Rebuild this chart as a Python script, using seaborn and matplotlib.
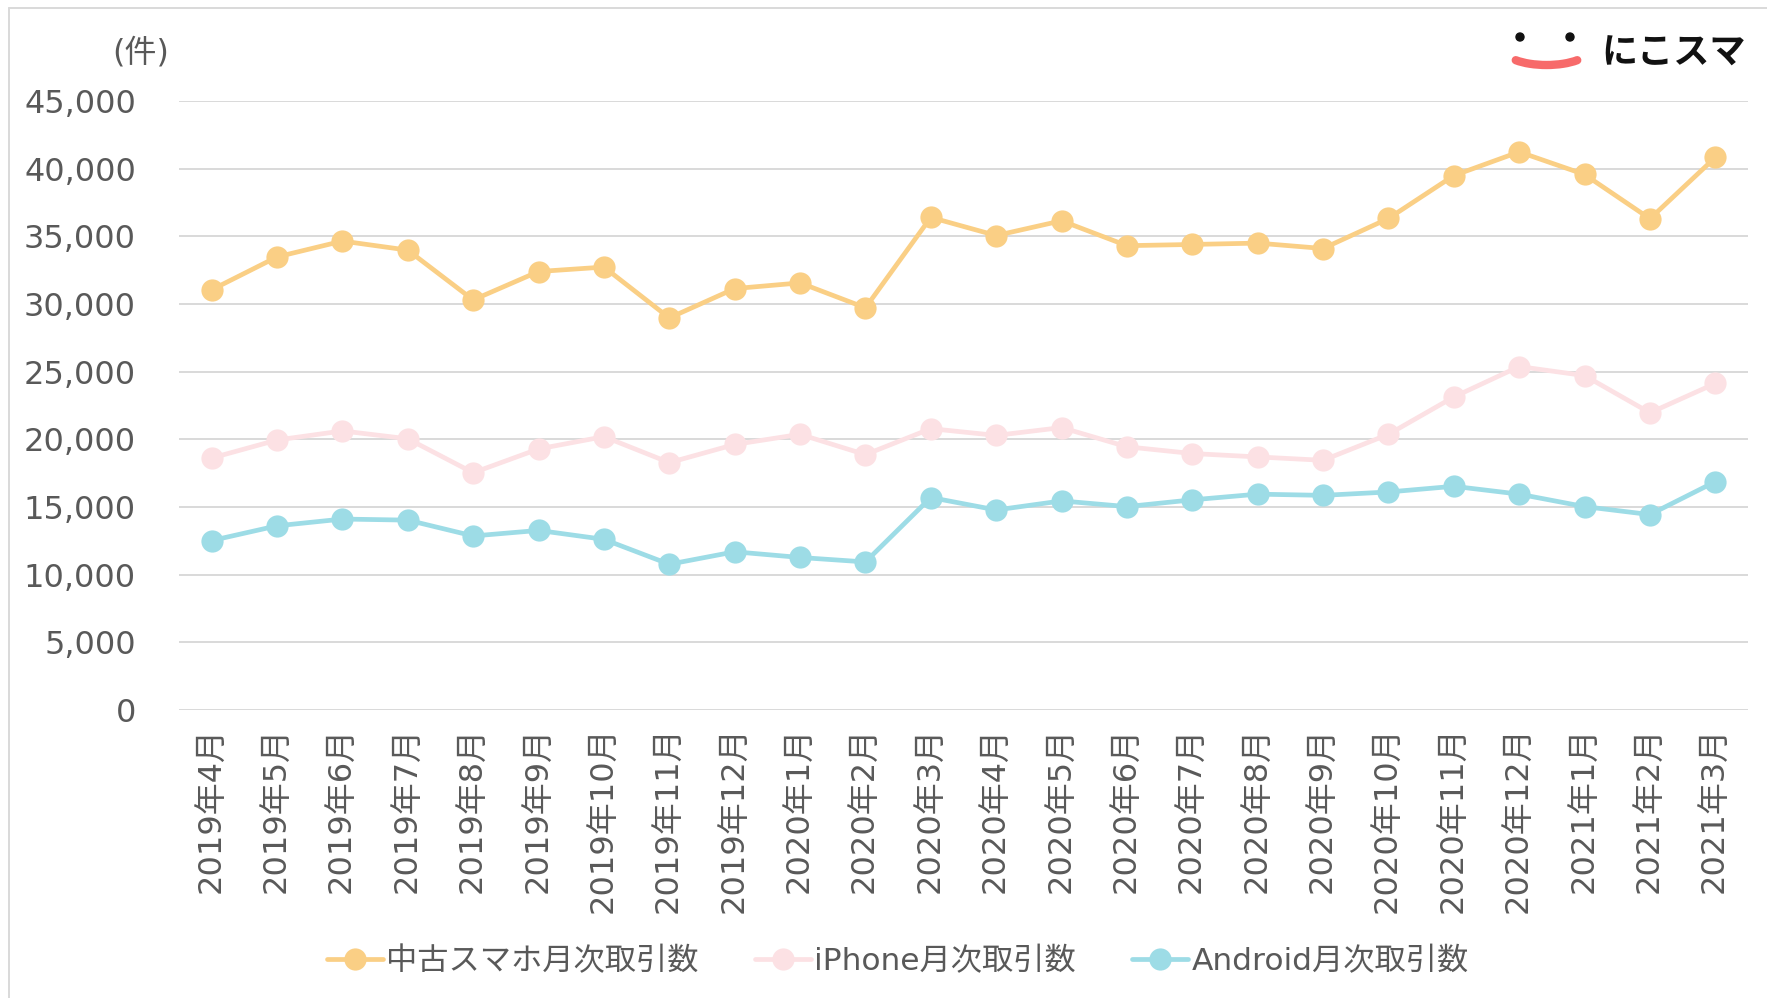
import matplotlib
matplotlib.use("Agg")
from matplotlib import pyplot as plt
from matplotlib.lines import Line2D
from matplotlib.patches import Arc, Circle
import seaborn as sns
import pandas as pd

months = ["2019年4月", "2019年5月", "2019年6月", "2019年7月", "2019年8月", "2019年9月",
          "2019年10月", "2019年11月", "2019年12月", "2020年1月", "2020年2月", "2020年3月",
          "2020年4月", "2020年5月", "2020年6月", "2020年7月", "2020年8月", "2020年9月",
          "2020年10月", "2020年11月", "2020年12月", "2021年1月", "2021年2月", "2021年3月"]

used_total = [31050, 33480, 34650, 33980, 30300, 32400, 32730, 28970, 31140, 31560, 29720, 36400,
              35060, 36150, 34310, 34400, 34500, 34100, 36320, 39490, 41240, 39570, 36300, 40830]
iphone = [18620, 19950, 20620, 20040, 17530, 19290, 20200, 18280, 19620, 20370, 18870, 20790,
          20290, 20870, 19450, 18950, 18700, 18450, 20370, 23130, 25380, 24710, 21960, 24130]
android = [12520, 13610, 14110, 14030, 12860, 13270, 12610, 10770, 11690, 11270, 10940, 15700,
           14780, 15450, 15030, 15530, 15950, 15860, 16110, 16530, 15950, 15030, 14440, 16870]

series_names = ["中古スマホ月次取引数", "iPhone月次取引数", "Android月次取引数"]
colors = ["#FACF85", "#FCE1E4", "#9DDCE6"]
yticks = [0, 5000, 10000, 15000, 20000, 25000, 30000, 35000, 40000, 45000]

sns.set_style("white")
plt.rcParams["font.family"] = ["DejaVu Sans", "Noto Sans CJK JP"]
text_color = "#595959"
fs = 23

rows = []
for name, vals in zip(series_names, [used_total, iphone, android]):
    for i, v in enumerate(vals):
        rows.append({"idx": i, "value": v, "series": name})
df = pd.DataFrame(rows)

fig = plt.figure(figsize=(17.67, 9.98), dpi=100)
ax = fig.add_axes([179 / 1767, 1 - 710 / 998, (1748 - 179) / 1767, (710 - 101) / 998])

sns.lineplot(data=df, x="idx", y="value", hue="series", hue_order=series_names,
             palette=colors, marker="o", markersize=16, markeredgewidth=0,
             linewidth=3.4, legend=False, ax=ax)

ax.set_xlim(-0.5, len(months) - 0.5)
ax.set_ylim(0, 45000)
ax.set_yticks(yticks)
ax.set_yticklabels([f"{t:,}" for t in yticks], fontsize=fs, color=text_color)
ax.set_xticks(range(len(months)))
ax.set_xticklabels(months, rotation=90, fontsize=fs, color=text_color)
ax.tick_params(axis="both", length=0)
ax.tick_params(axis="y", pad=31)
ax.tick_params(axis="x", pad=12)
ax.yaxis.grid(True, color="#D9D9D9", linewidth=1.4)
ax.set_axisbelow(True)
for s in ax.spines.values():
    s.set_visible(False)
ax.set_xlabel("")
ax.set_ylabel("")

fig.text(141 / 1767, 1 - 53 / 998, "(件)", fontsize=fs, color=text_color,
         ha="center", va="center")

# legend
handles = [Line2D([0], [0], color=c, linewidth=3.4, marker="o", markersize=16,
                  markeredgewidth=0) for c in colors]
fig.legend(handles, series_names, loc="center", bbox_to_anchor=(0.508, 0.037), ncol=3,
           frameon=False, fontsize=22.5, handlelength=1.8, handletextpad=0.1,
           columnspacing=1.8, labelcolor=text_color)

# logo
lax = fig.add_axes([1500 / 1767, 1 - 80 / 998, 95 / 1767, 55 / 998])
lax.set_xlim(0, 95)
lax.set_ylim(0, 55)
lax.axis("off")
lax.add_patch(Circle((20, 43), 4, color="#111111"))
lax.add_patch(Circle((70, 43), 4, color="#111111"))
lax.add_patch(Arc((46.5, 31), 86, 32, theta1=200, theta2=340, color="#F76A6A",
                  linewidth=6, capstyle="round"))
fig.text(1601 / 1767, 1 - 53 / 998, "にこスマ", fontsize=26, fontweight="bold",
         family="Noto Sans CJK JP", color="#111111", ha="left", va="center")

# outer frame
fig.add_artist(Line2D([9 / 1767, 9 / 1767], [0, 1 - 8 / 998], color="#D9D9D9", linewidth=1.4))
fig.add_artist(Line2D([9 / 1767, 1], [1 - 8 / 998, 1 - 8 / 998], color="#D9D9D9", linewidth=1.4))

plt.savefig("out.png", dpi=100)
